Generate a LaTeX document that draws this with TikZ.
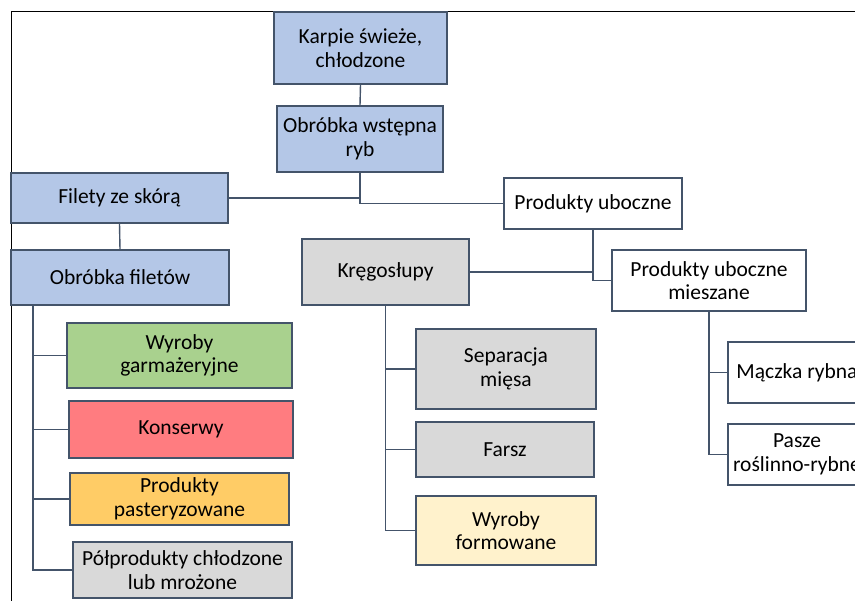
\documentclass[tikz,border=0pt]{standalone}
\usepackage{fontspec}
\setmainfont{Carlito}
\definecolor{bline}{HTML}{44546A}
\definecolor{cblue}{HTML}{B4C7E7}
\definecolor{cgray}{HTML}{D9D9D9}
\definecolor{cgreen}{HTML}{A9D18E}
\definecolor{cred}{HTML}{FF7C80}
\definecolor{corange}{HTML}{FFCC66}
\definecolor{cyellow}{HTML}{FFF2CC}
\tikzset{
  box/.style={draw=bline, line width=1.4pt, rectangle, inner sep=0pt, align=center,
    font=\fontsize{21.5}{23.5}\selectfont, text=black},
  conn/.style={draw=bline, line width=1.4pt},
}
\begin{document}
\begin{tikzpicture}[x=1pt,y=-1pt]
\useasboundingbox (0,0) rectangle (855,601);
\clip (0,0) rectangle (855,601);
\fill[white] (0,0) rectangle (855,601);
\draw[black, line width=1pt] (11,601) -- (11,12) -- (855,12);

% top chain
\node[box, fill=cblue, minimum width=173pt, minimum height=72pt] (karpie) at (360.5,48) {Karpie świeże,\\chłodzone};
\node[box, fill=cblue, minimum width=166pt, minimum height=66pt] (obw) at (360,139) {Obróbka wstępna\\ryb};
\node[box, fill=cblue, minimum width=217pt, minimum height=50pt] (filety) at (119.5,198) {Filety ze skórą};
\node[box, fill=white, minimum width=178pt, minimum height=51pt] (pu) at (593,203.5) {Produkty uboczne};
\node[box, fill=cblue, minimum width=218pt, minimum height=55pt] (obf) at (120,277.5) {Obróbka filetów};
\node[box, fill=cgray, minimum width=167pt, minimum height=66pt] (kreg) at (385.5,272) {Kręgosłupy};
\node[box, fill=white, minimum width=194pt, minimum height=61pt] (pum) at (709,280.5) {Produkty uboczne\\mieszane};
\node[box, fill=white, minimum width=138pt, minimum height=61pt] (macz) at (797,372.5) {Mączka rybna};
\node[box, fill=white, minimum width=138pt, minimum height=61pt] (pasze) at (797,454.5) {Pasze\\roślinno-rybne};

% fillet products
\node[box, fill=cgreen, minimum width=225pt, minimum height=65pt] (wg) at (179.5,355.5) {Wyroby\\garmażeryjne};
\node[box, fill=cred, minimum width=224pt, minimum height=57pt] (kons) at (181,429.5) {Konserwy};
\node[box, fill=corange, minimum width=219pt, minimum height=52pt] (pp) at (179.5,499) {Produkty\\pasteryzowane};
\node[box, fill=cgray, minimum width=219pt, minimum height=56pt] (pol) at (182.5,570) {Półprodukty chłodzone\\lub mrożone};

% spine products
\node[box, fill=cgray, minimum width=180pt, minimum height=80pt] (sep) at (506,369) {Separacja\\mięsa};
\node[box, fill=cgray, minimum width=178pt, minimum height=55pt] (farsz) at (505,449.5) {Farsz};
\node[box, fill=cyellow, minimum width=180pt, minimum height=69pt] (wf) at (506,530.5) {Wyroby\\formowane};

% connectors
\draw[conn] (karpie.south) -- (obw.north);
\draw[conn] (obw.south) |- (filety.east);
\draw[conn] (obw.south) |- (pu.west);
\draw[conn] (filety.south) -- (obf.north);
\draw[conn] (pu.south) |- (pum.west);
\draw[conn] (kreg.east) -- (kreg.east -| pu.south);
\draw[conn] (pum.south) |- (macz.west);
\draw[conn] (pum.south) |- (pasze.west);
\coordinate (obfx) at (33,305);
\draw[conn] (obfx) |- (wg.west);
\draw[conn] (obfx) |- (kons.west);
\draw[conn] (obfx) |- (pp.west);
\draw[conn] (obfx) |- (pol.west);
\draw[conn] (kreg.south) |- (sep.west);
\draw[conn] (kreg.south) |- (farsz.west);
\draw[conn] (kreg.south) |- (wf.west);
\end{tikzpicture}
\end{document}
